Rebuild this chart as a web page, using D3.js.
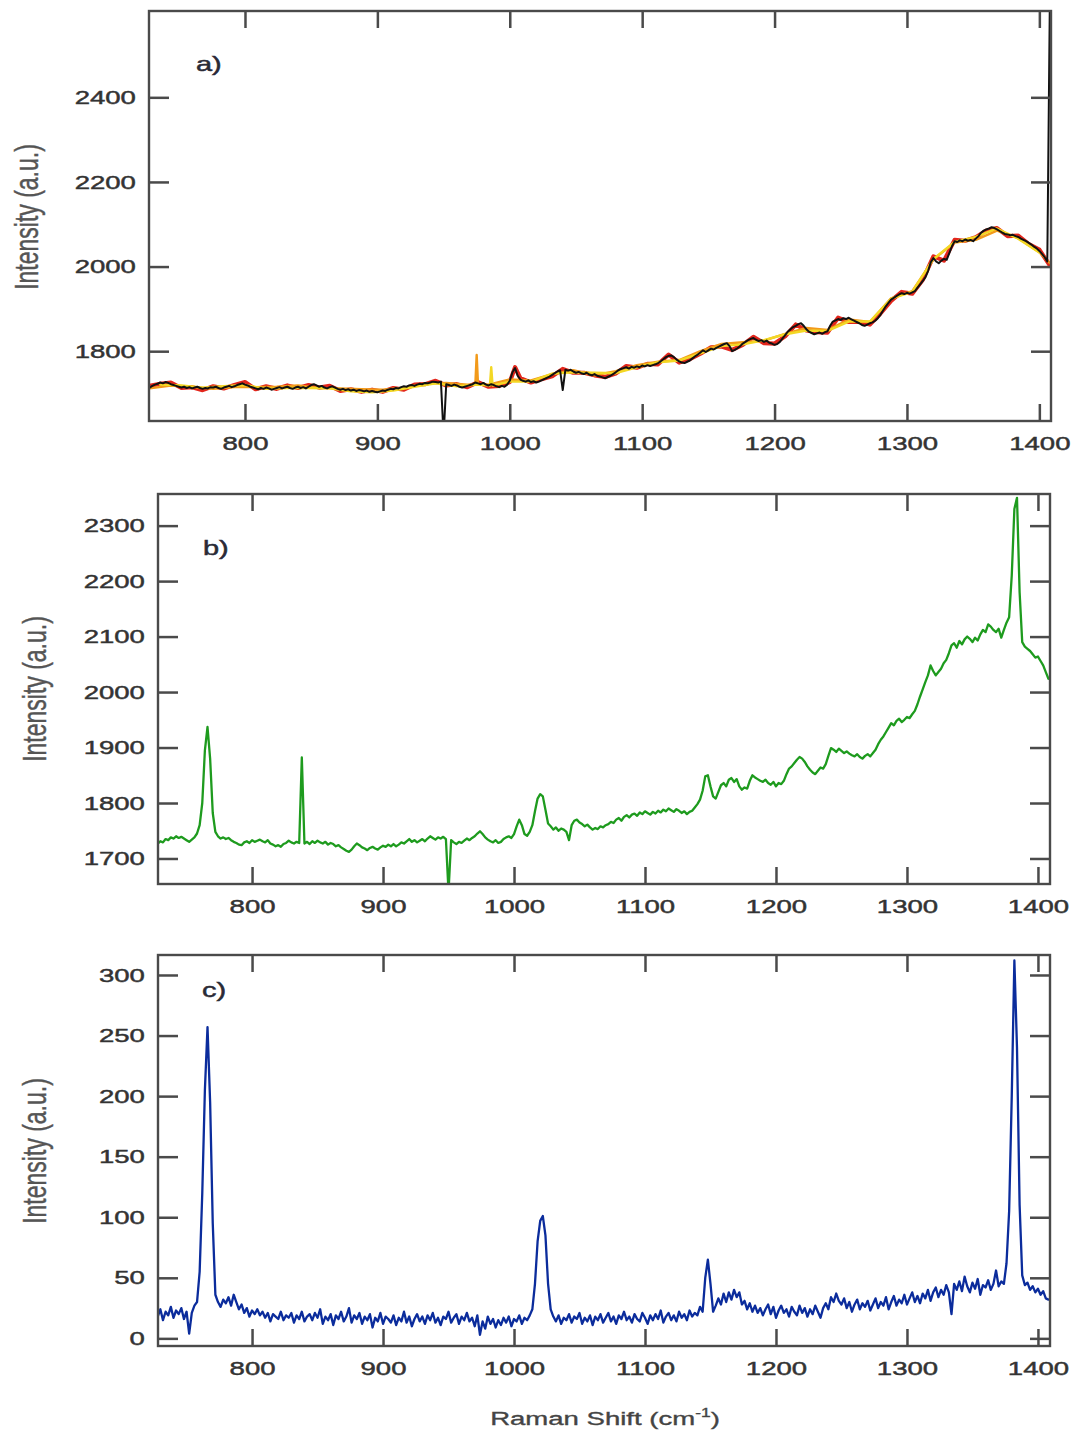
<!DOCTYPE html>
<html>
<head>
<meta charset="utf-8">
<script src="https://cdn.jsdelivr.net/npm/d3@7"></script>
<style>
  body { margin: 0; background: #ffffff; }
  svg { display: block; }
</style>
</head>
<body>
<svg id="chart" width="1073" height="1435"></svg>
<script>
// Raman shift grid shared by the full-resolution traces (cm^-1)
const shiftStart = 728;
const shiftStep = 2;

// Axis tick labels
const shiftTicks = [800, 900, 1000, 1100, 1200, 1300, 1400];
const ticksA = [1800, 2000, 2200, 2400];
const ticksB = [1700, 1800, 1900, 2000, 2100, 2200, 2300];
const ticksC = [0, 50, 100, 150, 200, 250, 300];

// a) averaged spectrum (black), on the shared grid
const traceABlack = [
  1714,1718,1721,1723,1726,1724,1727,1725,1722,1720,
  1718,1716,1714,1716,1713,1715,1712,1714,1716,1713,
  1711,1713,1712,1715,1714,1716,1713,1711,1714,1716,
  1718,1715,1717,1720,1722,1724,1721,1719,1716,1714,
  1712,1710,1713,1711,1714,1712,1709,1711,1713,1715,
  1712,1714,1716,1713,1711,1714,1716,1713,1715,1712,
  1716,1720,1722,1719,1716,1718,1714,1712,1715,1717,
  1714,1711,1709,1711,1708,1710,1707,1709,1706,1708,
  1707,1705,1707,1704,1706,1704,1703,1705,1707,1706,
  1709,1711,1710,1713,1712,1715,1717,1716,1719,1720,
  1718,1721,1723,1722,1725,1724,1726,1728,1727,1726,
  1728,1600,1722,1720,1718,1721,1719,1716,1714,1716,
  1718,1720,1722,1726,1724,1722,1725,1721,1719,1722,
  1720,1717,1715,1718,1716,1721,1730,1750,1760,1742,
  1733,1730,1728,1731,1727,1729,1726,1728,1731,1734,
  1737,1740,1744,1748,1752,1755,1708,1756,1754,1756,
  1752,1749,1751,1748,1746,1749,1745,1743,1746,1742,
  1740,1738,1736,1739,1742,1746,1750,1755,1758,1760,
  1762,1759,1763,1761,1764,1762,1766,1764,1767,1765,
  1767,1769,1772,1776,1781,1786,1789,1790,1786,1780,
  1776,1773,1772,1775,1778,1783,1788,1792,1797,1802,
  1798,1802,1806,1804,1808,1811,1814,1817,1819,1812,
  1800,1803,1807,1812,1818,1822,1826,1829,1831,1827,
  1824,1826,1822,1825,1820,1818,1815,1817,1822,1830,
  1838,1846,1852,1857,1860,1864,1866,1860,1852,1846,
  1843,1840,1842,1844,1841,1845,1847,1860,1870,1873,
  1876,1874,1878,1876,1879,1875,1872,1869,1866,1862,
  1860,1863,1866,1868,1872,1878,1886,1896,1906,1914,
  1922,1926,1930,1934,1937,1935,1938,1936,1939,1942,
  1950,1958,1966,1975,1990,2010,2020,2012,2008,2014,
  2018,2016,2032,2048,2060,2058,2062,2060,2064,2061,
  2063,2060,2066,2072,2080,2085,2088,2090,2093,2091,
  2088,2084,2080,2077,2076,2074,2075,2072,2070,2066,
  2063,2060,2056,2052,2047,2043,2037,2030,2022,2012,
  2650
];

// a) individual acquisitions, [shift, intensity]
const traceARed = [
  [728,1718],[736,1723],[744,1726],[752,1713],[760,1715],[768,1708],[776,1717],[784,1712],
  [792,1720],[800,1727],[808,1710],[816,1717],[824,1711],[832,1719],[840,1713],[848,1720],
  [856,1714],[864,1718],[872,1706],[880,1710],[888,1704],[896,1709],[904,1704],[912,1713],
  [920,1709],[928,1721],[936,1722],[944,1730],[952,1719],[960,1722],[968,1715],[976,1727],
  [984,1716],[992,1718],[1000,1727],[1004,1762],[1008,1736],[1016,1726],[1024,1734],[1032,1741],
  [1040,1758],[1048,1749],[1056,1749],[1064,1743],[1072,1739],[1080,1747],[1088,1765],[1096,1761],
  [1104,1770],[1112,1769],[1120,1792],[1128,1773],[1136,1781],[1144,1794],[1152,1809],[1160,1811],
  [1168,1803],[1176,1815],[1184,1834],[1192,1819],[1200,1818],[1208,1835],[1216,1863],[1224,1849],
  [1232,1845],[1240,1844],[1248,1879],[1256,1869],[1264,1869],[1272,1863],[1280,1889],[1288,1919],
  [1296,1940],[1304,1936],[1312,1969],[1320,2024],[1328,2014],[1336,2063],[1344,2061],[1352,2069],
  [1360,2085],[1368,2091],[1376,2072],[1384,2073],[1392,2053],[1400,2040],[1408,2002]
];
const traceAOrange = [
  [728,1712],[744,1719],[760,1716],[776,1711],[792,1715],[808,1715],[824,1716],[840,1719],
  [856,1713],[872,1712],[888,1710],[904,1709],[920,1714],[936,1723],[952,1725],[968,1721],
  [974,1722],[975,1791],[976,1722],[984,1721],[1000,1733],[1016,1731],[1032,1746],[1048,1755],
  [1064,1743],[1080,1753],[1096,1767],[1112,1775],[1128,1779],[1144,1800],[1160,1817],[1176,1821],
  [1192,1825],[1208,1841],[1224,1855],[1240,1850],[1256,1875],[1272,1869],[1288,1925],[1304,1942],
  [1320,2017],[1336,2057],[1352,2063],[1368,2085],[1384,2067],[1400,2034],[1408,2008]
];
const traceAYellow = [
  [736,1721],[752,1719],[768,1714],[784,1717],[800,1720],[816,1711],[832,1713],[848,1713],
  [864,1712],[880,1705],[896,1703],[912,1707],[928,1716],[944,1724],[960,1717],[976,1721],
  [985,1719],[986,1762],[987,1719],[1000,1728],[1016,1728],[1032,1747],[1048,1750],[1064,1749],
  [1080,1748],[1096,1762],[1112,1774],[1128,1778],[1144,1795],[1160,1812],[1176,1816],[1192,1826],
  [1208,1840],[1224,1849],[1240,1848],[1256,1870],[1272,1870],[1288,1924],[1304,1940],[1320,2018],
  [1336,2058],[1352,2070],[1368,2090],[1384,2066],[1400,2033]
];

// b) spectrum on the shared grid
const traceB = [
  1727,1731,1729,1735,1733,1738,1736,1740,1737,1739,
  1736,1733,1730,1734,1738,1745,1760,1800,1895,1937,
  1880,1782,1748,1740,1736,1738,1735,1737,1733,1730,
  1728,1725,1724,1729,1731,1728,1733,1730,1732,1734,
  1731,1729,1733,1727,1725,1722,1724,1721,1726,1728,
  1732,1729,1727,1730,1728,1882,1727,1730,1726,1731,
  1728,1732,1729,1727,1730,1725,1728,1726,1722,1724,
  1720,1717,1714,1712,1716,1722,1727,1724,1720,1718,
  1715,1719,1721,1718,1716,1720,1723,1721,1725,1722,
  1726,1722,1725,1729,1727,1731,1735,1730,1733,1729,
  1732,1735,1731,1736,1740,1737,1734,1738,1736,1739,
  1735,1640,1733,1729,1726,1730,1728,1732,1736,1733,
  1737,1740,1745,1749,1744,1738,1734,1731,1729,1733,
  1728,1730,1735,1738,1740,1737,1744,1758,1770,1760,
  1744,1741,1748,1760,1785,1808,1816,1812,1788,1763,
  1758,1752,1756,1750,1754,1752,1748,1733,1760,1768,
  1770,1765,1762,1758,1761,1756,1752,1755,1753,1758,
  1756,1760,1762,1766,1764,1770,1773,1768,1775,1778,
  1774,1779,1781,1777,1783,1780,1785,1782,1779,1784,
  1781,1786,1783,1788,1785,1790,1787,1784,1789,1786,
  1782,1785,1780,1784,1786,1792,1798,1806,1822,1848,
  1850,1830,1812,1808,1820,1832,1836,1830,1842,1845,
  1838,1843,1830,1824,1828,1826,1840,1850,1846,1843,
  1840,1838,1842,1836,1833,1838,1830,1836,1834,1840,
  1852,1862,1866,1872,1878,1883,1880,1874,1866,1860,
  1855,1852,1858,1864,1862,1870,1885,1899,1896,1892,
  1898,1894,1890,1893,1889,1886,1884,1888,1883,1880,
  1885,1888,1884,1890,1896,1906,1914,1920,1928,1936,
  1944,1940,1948,1952,1946,1950,1955,1953,1960,1966,
  1978,1992,2005,2018,2030,2048,2038,2030,2036,2042,
  2052,2058,2070,2084,2088,2080,2092,2086,2095,2100,
  2096,2090,2098,2093,2104,2112,2108,2122,2118,2112,
  2108,2114,2098,2112,2125,2135,2210,2330,2350,2180,
  2090,2082,2078,2074,2068,2062,2064,2056,2048,2036,
  2024
];

// c) difference spectrum on the shared grid
const traceC = [
  18,24,15,22,19,26,17,23,20,25,
  16,22,4,21,27,30,55,120,205,257,
  195,95,36,30,26,32,29,34,27,36,
  30,24,28,21,25,18,23,20,24,19,
  22,17,21,14,20,18,16,22,15,19,
  17,21,13,19,16,22,14,18,20,15,
  21,17,24,12,18,15,20,11,19,16,
  22,14,18,25,13,19,16,21,12,18,
  15,20,9,17,14,21,12,18,16,13,
  19,11,17,14,22,13,18,10,16,20,
  14,18,12,19,15,21,13,17,11,18,
  16,22,13,17,20,12,18,15,21,14,
  17,10,19,3,14,8,18,12,16,9,
  15,11,17,13,18,10,16,14,19,12,
  17,15,19,24,45,80,97,101,85,45,
  24,18,14,19,12,17,15,20,13,18,
  16,21,12,17,14,19,11,18,15,20,
  13,17,21,14,18,12,19,16,22,15,
  18,13,20,16,14,21,17,12,19,15,
  20,16,23,13,18,21,15,19,14,22,
  17,20,15,23,18,21,19,26,22,50,
  65,45,22,27,33,28,37,30,38,32,
  40,34,38,28,31,24,29,22,27,21,
  25,19,24,28,20,26,17,23,27,21,
  24,18,26,22,19,27,21,25,18,24,
  20,27,22,17,25,29,24,34,30,37,
  31,28,33,25,30,22,28,32,24,29,
  26,31,23,28,33,25,30,27,34,24,
  30,35,27,32,29,36,28,33,38,30,
  35,29,37,33,40,31,38,42,34,40,
  36,44,38,20,45,40,47,39,51,43,
  38,46,41,49,36,44,42,48,40,45,
  56,43,47,45,62,105,200,312,240,110,
  52,44,46,40,43,38,41,36,39,33,
  32
];

const onGrid = values => values.map((v, i) => [shiftStart + i * shiftStep, v]);

const svg = d3.select("#chart");
const FONT = "'Liberation Sans', Arial, Helvetica, sans-serif";
const INK = "#333333";
const FRAME = "#4a4a4a";
const WIDEN = 1.45; // horizontal stretch of the lettering

svg.append("rect").attr("width", 1073).attr("height", 1435).attr("fill", "#ffffff");

// slightly heavier lettering
const ink = sel => sel.attr("fill", INK).attr("stroke", INK).attr("stroke-width", 0.45);

function drawPanel(cfg) {
  const x = d3.scaleLinear().domain(cfg.xDomain).range([cfg.left, cfg.right]);
  const y = d3.scaleLinear().domain(cfg.yDomain).range([cfg.bottom, cfg.top]);
  const g = svg.append("g");

  const clipId = "clip-" + cfg.name;
  svg.append("clipPath").attr("id", clipId)
    .append("rect")
    .attr("x", cfg.left).attr("y", cfg.top)
    .attr("width", cfg.right - cfg.left).attr("height", cfg.bottom - cfg.top);

  const line = d3.line().x(d => x(d[0])).y(d => y(d[1]));
  const plot = g.append("g").attr("clip-path", `url(#${clipId})`);
  cfg.traces.forEach(t => {
    plot.append("path")
      .attr("d", line(t.points))
      .attr("fill", "none")
      .attr("stroke", t.color)
      .attr("stroke-width", t.width)
      .attr("stroke-linejoin", "round")
      .attr("stroke-linecap", "round");
  });

  const styleAxis = sel => {
    sel.select(".domain").remove();
    sel.selectAll(".tick line").attr("stroke", FRAME).attr("stroke-width", 2.5);
    sel.selectAll(".tick text")
      .call(ink)
      .attr("font-size", 19)
      .attr("font-family", FONT)
      .attr("transform", `scale(${WIDEN},1)`);
  };

  g.append("g").attr("transform", `translate(0,${cfg.bottom})`)
    .call(d3.axisBottom(x).tickValues(shiftTicks).tickSize(-17).tickPadding(16).tickFormat(d3.format("d")))
    .call(styleAxis);
  g.append("g").attr("transform", `translate(0,${cfg.top})`)
    .call(d3.axisTop(x).tickValues(shiftTicks).tickSize(-17).tickFormat(""))
    .call(styleAxis);
  g.append("g").attr("transform", `translate(${cfg.left},0)`)
    .call(d3.axisLeft(y).tickValues(cfg.yTicks).tickSize(-20).tickPadding(9).tickFormat(d3.format("d")))
    .call(styleAxis);
  g.append("g").attr("transform", `translate(${cfg.right},0)`)
    .call(d3.axisRight(y).tickValues(cfg.yTicks).tickSize(-20).tickFormat(""))
    .call(styleAxis);

  g.append("rect")
    .attr("x", cfg.left).attr("y", cfg.top)
    .attr("width", cfg.right - cfg.left).attr("height", cfg.bottom - cfg.top)
    .attr("fill", "none").attr("stroke", FRAME).attr("stroke-width", 2.4);

  // panel letter
  g.append("text")
    .attr("transform", `translate(${cfg.tag[0]},${cfg.tag[1]}) scale(${WIDEN},1)`)
    .attr("font-family", FONT).attr("font-size", 20)
    .attr("fill", "#2a2a36").attr("stroke", "#2a2a36").attr("stroke-width", 0.45)
    .text(cfg.label);

  // vertical axis title
  g.append("text")
    .attr("transform", `translate(${cfg.titleAt[0]},${cfg.titleAt[1]}) scale(${WIDEN},1) rotate(-90)`)
    .attr("text-anchor", "middle")
    .attr("dy", "0.35em")
    .attr("font-family", FONT).attr("font-size", 23)
    .attr("fill", "#555555").attr("stroke", "#555555").attr("stroke-width", 0.3)
    .text("Intensity (a.u.)");
}

drawPanel({
  name: "a", left: 149, right: 1051, top: 11, bottom: 421,
  xDomain: [727.5, 1408.8], yDomain: [1635, 2604], yTicks: ticksA,
  label: "a)", tag: [196, 71], titleAt: [26, 217],
  traces: [
    { points: traceARed, color: "#e3261c", width: 4.2 },
    { points: traceAOrange, color: "#f29a1a", width: 2.4 },
    { points: traceAYellow, color: "#f3d825", width: 2.4 },
    { points: onGrid(traceABlack), color: "#111111", width: 2 }
  ]
});

drawPanel({
  name: "b", left: 158, right: 1050, top: 494, bottom: 884,
  xDomain: [728.2, 1409.2], yDomain: [1654, 2357], yTicks: ticksB,
  label: "b)", tag: [203, 555], titleAt: [34, 689],
  traces: [
    { points: onGrid(traceB), color: "#1e9b1e", width: 2.3 }
  ]
});

drawPanel({
  name: "c", left: 158, right: 1050, top: 955, bottom: 1346,
  xDomain: [728.2, 1409.2], yDomain: [-6.3, 316.5], yTicks: ticksC,
  label: "c)", tag: [202, 997], titleAt: [34, 1151],
  traces: [
    { points: onGrid(traceC), color: "#0b2c9c", width: 2.3 }
  ]
});

// shared horizontal axis title
const xTitle = svg.append("text")
  .attr("transform", `translate(605,1425) scale(${WIDEN},1)`)
  .attr("text-anchor", "middle")
  .attr("font-family", FONT).attr("font-size", 19)
  .attr("fill", "#444444").attr("stroke", "#444444").attr("stroke-width", 0.35);
xTitle.append("tspan").text("Raman Shift (cm");
xTitle.append("tspan").attr("dy", -8).attr("font-size", 12).text("-1");
xTitle.append("tspan").attr("dy", 8).text(")");
</script>
</body>
</html>
